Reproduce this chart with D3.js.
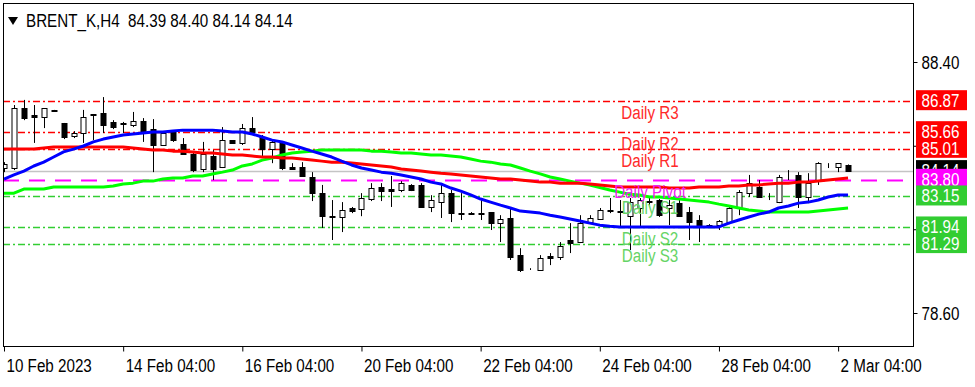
<!DOCTYPE html>
<html>
<head>
<meta charset="utf-8">
<script src="https://cdn.jsdelivr.net/npm/d3@7"></script>
<style>
	html, body { margin: 0; padding: 0; background: #fff; }
	svg { display: block; }
	text { font-family: "Liberation Sans", Arial, sans-serif; }
</style>
</head>
<body>
<div id="chart"></div>
<script>
const symbol = "BRENT_K";
const timeframe = "H4";

// H4 bars, 10 Feb 04:00 .. 2 Mar 08:00
const open = [84.26, 84.26, 86.60, 86.33, 86.25, 86.49, 86.02, 85.51, 85.63, 86.37,
	86.41, 86.06, 86.02, 85.94, 86.10, 85.78, 85.16, 85.67, 85.20, 84.81,
	84.22, 84.73, 84.30, 85.35, 85.24, 85.82, 85.47, 85.00, 85.28, 84.30,
	84.30, 83.91, 83.28, 82.38, 82.35, 82.70, 82.66, 83.05, 83.52, 83.44,
	83.40, 83.60, 83.60, 82.74, 82.93, 83.28, 82.52, 82.52, 82.52, 82.54,
	82.11, 82.31, 80.86, 80.33, 80.28, 80.82, 80.78, 81.45, 81.37, 82.15,
	82.27, 82.64, 82.60, 82.38, 82.70, 82.99, 83.01, 82.70, 82.89, 82.54,
	82.23, 82.03, 82.03, 82.15, 82.74, 83.28, 83.52, 83.13, 82.93, 83.99,
	83.99, 83.13, 83.79, 84.34, 84.30, 84.39];
const high = [84.49, 86.72, 86.92, 86.72, 86.60, 86.53, 86.02, 85.70, 86.53, 86.37,
	87.03, 86.13, 86.06, 86.45, 86.21, 86.17, 85.70, 85.74, 85.43, 84.85,
	85.28, 84.96, 85.86, 85.35, 85.98, 86.25, 85.55, 85.39, 85.31, 84.45,
	84.49, 84.10, 83.60, 83.01, 82.93, 82.74, 83.28, 83.67, 83.67, 83.95,
	83.75, 83.63, 83.67, 83.20, 83.60, 83.40, 83.28, 82.54, 83.01, 82.54,
	82.42, 82.70, 81.13, 80.35, 80.86, 80.94, 81.37, 82.11, 82.42, 82.42,
	82.70, 83.09, 83.01, 83.09, 83.09, 83.09, 83.05, 83.01, 83.01, 82.74,
	82.42, 82.07, 82.23, 82.78, 83.40, 83.99, 83.79, 83.28, 83.99, 84.18,
	84.10, 84.06, 84.49, 84.45, 84.45, 84.40];
const low = [84.10, 84.18, 86.13, 85.24, 85.82, 86.47, 85.39, 85.43, 85.24, 85.35,
	85.63, 85.78, 85.63, 85.86, 85.28, 84.10, 85.12, 85.28, 84.77, 84.10,
	84.10, 83.79, 84.26, 85.20, 85.16, 85.63, 84.69, 84.45, 84.18, 84.22,
	83.91, 82.97, 81.92, 81.45, 81.76, 82.50, 82.38, 82.97, 82.97, 82.74,
	83.32, 83.36, 82.74, 82.54, 82.31, 82.15, 82.23, 82.46, 82.23, 81.84,
	81.37, 80.67, 80.20, 80.28, 80.24, 80.47, 80.67, 80.94, 81.33, 82.11,
	82.23, 82.50, 81.96, 81.06, 81.96, 82.81, 82.35, 82.03, 82.35, 81.45,
	81.37, 81.99, 81.84, 82.07, 82.42, 83.13, 83.13, 83.01, 82.89, 83.79,
	82.70, 82.89, 83.60, 84.26, 84.10, 84.14];
const close = [84.41, 86.60, 86.21, 86.25, 86.60, 86.51, 85.47, 85.63, 86.25, 86.33,
	85.94, 85.86, 85.98, 86.10, 85.71, 85.16, 85.63, 85.35, 84.81, 84.18,
	84.81, 84.22, 85.35, 85.24, 85.82, 85.67, 85.00, 85.28, 84.26, 84.22,
	83.95, 83.28, 82.38, 82.36, 82.62, 82.58, 83.09, 83.48, 83.36, 83.36,
	83.67, 83.40, 82.74, 83.01, 83.28, 82.50, 82.48, 82.48, 82.48, 82.11,
	82.27, 80.78, 80.28, 80.30, 80.74, 80.74, 81.21, 81.33, 82.11, 82.31,
	82.62, 82.60, 82.56, 82.93, 83.01, 82.95, 82.42, 82.81, 82.38, 82.15,
	82.03, 82.01, 82.19, 82.70, 83.32, 83.67, 83.13, 83.11, 83.91, 83.97,
	83.13, 83.67, 84.45, 84.32, 84.45, 84.14];

// moving averages
const maBlue = [83.83, 83.99, 84.14, 84.34, 84.49, 84.69, 84.89, 85.00, 85.12, 85.28,
	85.39, 85.47, 85.55, 85.59, 85.63, 85.67, 85.67, 85.71, 85.74, 85.74,
	85.74, 85.74, 85.71, 85.67, 85.67, 85.59, 85.47, 85.35, 85.28, 85.16,
	85.04, 84.92, 84.81, 84.69, 84.53, 84.38, 84.26, 84.18, 84.10, 84.06,
	83.99, 83.91, 83.83, 83.71, 83.64, 83.48, 83.36, 83.21, 83.05, 82.93,
	82.81, 82.70, 82.58, 82.54, 82.50, 82.42, 82.35, 82.27, 82.19, 82.11,
	82.03, 81.99, 81.96, 81.96, 81.96, 81.96, 81.96, 81.96, 81.96, 81.96,
	81.96, 81.96, 81.96, 82.11, 82.23, 82.35, 82.46, 82.54, 82.70, 82.78,
	82.89, 82.93, 83.01, 83.13, 83.21, 83.21];
const maRed = [85.00, 85.00, 85.00, 85.00, 85.04, 85.08, 85.08, 85.08, 85.08, 85.08,
	85.08, 85.08, 85.08, 85.04, 85.00, 84.96, 84.96, 84.92, 84.92, 84.89,
	84.85, 84.85, 84.81, 84.77, 84.77, 84.73, 84.69, 84.69, 84.65, 84.65,
	84.61, 84.57, 84.53, 84.49, 84.49, 84.46, 84.42, 84.38, 84.34, 84.30,
	84.22, 84.18, 84.14, 84.10, 84.06, 84.03, 83.99, 83.95, 83.91, 83.87,
	83.83, 83.83, 83.79, 83.75, 83.71, 83.71, 83.67, 83.67, 83.67, 83.64,
	83.60, 83.56, 83.52, 83.52, 83.52, 83.52, 83.52, 83.48, 83.48, 83.48,
	83.52, 83.52, 83.52, 83.56, 83.56, 83.60, 83.60, 83.64, 83.67, 83.67,
	83.71, 83.71, 83.75, 83.79, 83.83, 83.87];
const maGreen = [83.28, 83.28, 83.44, 83.44, 83.44, 83.52, 83.52, 83.52, 83.52, 83.52,
	83.52, 83.56, 83.64, 83.67, 83.75, 83.75, 83.83, 83.87, 83.87, 83.95,
	83.95, 84.03, 84.10, 84.18, 84.34, 84.42, 84.57, 84.65, 84.77, 84.85,
	84.89, 84.92, 84.96, 84.96, 84.96, 84.96, 84.96, 84.92, 84.92, 84.89,
	84.85, 84.85, 84.81, 84.77, 84.77, 84.73, 84.69, 84.61, 84.53, 84.49,
	84.42, 84.38, 84.26, 84.14, 84.03, 83.91, 83.83, 83.75, 83.67, 83.60,
	83.50, 83.40, 83.32, 83.24, 83.21, 83.13, 83.13, 83.09, 83.05, 83.01,
	82.97, 82.93, 82.85, 82.78, 82.70, 82.62, 82.58, 82.54, 82.54, 82.54,
	82.54, 82.54, 82.58, 82.62, 82.66, 82.70];

// daily pivot levels
const levelNames = ["Daily R3", "Daily R2", "Daily R1", "Daily Pivot", "Daily S1", "Daily S2", "Daily S3"];
const levelValues = [86.87, 85.66, 85.01, 83.80, 83.15, 81.94, 81.29];

const timeTickBars = [0, 12, 24, 36, 48, 60, 72, 84];
const timeLabels = ["10 Feb 2023", "14 Feb 04:00", "16 Feb 04:00", "20 Feb 04:00",
	"22 Feb 04:00", "24 Feb 04:00", "28 Feb 04:00", "2 Mar 04:00"];
const priceTicks = [88.40, 85.13, 81.87, 78.60];

const width = 975;
const height = 387;
const frame = { left: 3, right: 913, top: 3, bottom: 346 };
const barStep = 9.93;
const fontSize = 19;
const squeeze = "scale(0.8,1)"; // narrow terminal font look

const x = d3.scaleLinear()
	.domain([0, open.length - 1])
	.range([4, 4 + (open.length - 1) * barStep]);
const y = d3.scaleLinear().domain([78.60, 88.40]).range([313, 62]);

function levelColor(i) {
	if (i < 3) return "#ff0000";
	if (i === 3) return "#ff00ff";
	return "#32cd32";
}

const svg = d3.select("#chart").append("svg")
	.attr("width", width)
	.attr("height", height)
	.style("font-family", "'Liberation Sans', Arial, sans-serif");

svg.append("defs").append("clipPath")
	.attr("id", "plot-clip")
	.append("rect")
	.attr("x", frame.left + 0.5)
	.attr("y", frame.top + 0.5)
	.attr("width", frame.right - frame.left - 0.5)
	.attr("height", frame.bottom - frame.top - 0.5);

const plot = svg.append("g").attr("clip-path", "url(#plot-clip)");

// current price line
const last = open.length - 1;
plot.append("line")
	.attr("x1", frame.left).attr("x2", frame.right)
	.attr("y1", Math.round(y(close[last])) + 0.5)
	.attr("y2", Math.round(y(close[last])) + 0.5)
	.attr("stroke", "#c4c4c4")
	.attr("stroke-width", 1.5);

// pivot lines
plot.append("g")
	.selectAll("line")
	.data(levelValues)
	.join("line")
	.attr("x1", frame.left)
	.attr("x2", frame.right)
	.attr("y1", (d) => Math.round(y(d)) + 0.5)
	.attr("y2", (d) => Math.round(y(d)) + 0.5)
	.attr("stroke", (d, i) => levelColor(i))
	.attr("stroke-width", (d, i) => (i === 3 ? 2 : 1.5))
	.attr("stroke-dasharray", (d, i) => (i === 3 ? "16,10" : "7,3,2,3"));

// candles
const bars = d3.range(open.length);
const candle = plot.append("g")
	.selectAll("g")
	.data(bars)
	.join("g")
	.attr("transform", (i) => `translate(${Math.round(x(i)) + 0.5},0)`);

candle.append("line")
	.attr("y1", (i) => y(high[i]))
	.attr("y2", (i) => y(low[i]))
	.attr("stroke", "#000");

candle.append("rect")
	.attr("x", -2.5)
	.attr("width", 5)
	.attr("y", (i) => Math.round(y(Math.max(open[i], close[i]))) + 0.5)
	.attr("height", (i) => Math.max(0, Math.round(y(Math.min(open[i], close[i]))) - Math.round(y(Math.max(open[i], close[i])))))
	.attr("fill", (i) => (close[i] > open[i] ? "#fff" : "#000"))
	.attr("stroke", "#000");

// moving averages
const maLine = d3.line().x((d, i) => x(i)).y((d) => y(d));
[[maGreen, "#00ff00"], [maRed, "#ff0000"], [maBlue, "#0000ff"]].forEach(([series, color]) => {
	plot.append("path")
		.attr("d", maLine(series))
		.attr("fill", "none")
		.attr("stroke", color)
		.attr("stroke-width", 3)
		.attr("stroke-linejoin", "round");
});

// level labels
plot.append("g")
	.selectAll("text")
	.data(levelNames)
	.join("text")
	.attr("transform", (d, i) => `translate(650,${y(levelValues[i]) + 18}) ${squeeze}`)
	.attr("text-anchor", "middle")
	.attr("font-size", fontSize)
	.attr("fill", (d, i) => (i < 3 ? "#ff2a2a" : i === 3 ? "#f020f0" : "#66d466"))
	.text((d) => d);

// frame
svg.append("rect")
	.attr("x", frame.left + 0.5)
	.attr("y", frame.top + 0.5)
	.attr("width", frame.right - frame.left)
	.attr("height", frame.bottom - frame.top)
	.attr("fill", "none")
	.attr("stroke", "#000");

// price axis
const yAxis = svg.append("g")
	.attr("transform", `translate(${frame.right + 0.5},0)`)
	.call(d3.axisRight(y).tickValues(priceTicks).tickSize(4).tickFormat(d3.format(".2f")));
yAxis.select(".domain").remove();
yAxis.selectAll("text")
	.attr("x", null)
	.attr("font-size", fontSize)
	.attr("font-family", "'Liberation Sans', Arial, sans-serif")
	.attr("fill", "#000")
	.attr("transform", `translate(8,0) ${squeeze}`);

// time axis
const xAxis = svg.append("g")
	.attr("transform", `translate(0,${frame.bottom + 0.5})`)
	.call(d3.axisBottom(x).tickValues(timeTickBars).tickSize(5).tickFormat((d, i) => timeLabels[i]));
xAxis.select(".domain").remove();
xAxis.selectAll("text")
	.attr("y", null)
	.attr("dy", null)
	.attr("text-anchor", "start")
	.attr("font-size", fontSize)
	.attr("font-family", "'Liberation Sans', Arial, sans-serif")
	.attr("fill", "#000")
	.attr("transform", `translate(2,25) ${squeeze}`);

// price boxes on the axis
const boxes = [
	{ v: levelValues[0], c: "#ff0000" },
	{ v: levelValues[2], c: "#ff0000" },
	{ v: levelValues[1], c: "#ff0000" },
	{ v: close[last], c: "#000000" },
	{ v: levelValues[3], c: "#ff00ff" },
	{ v: levelValues[4], c: "#32cd32" },
	{ v: levelValues[5], c: "#32cd32" },
	{ v: levelValues[6], c: "#32cd32" },
];
const box = svg.append("g")
	.selectAll("g")
	.data(boxes)
	.join("g")
	.attr("transform", (d) => `translate(916,${y(d.v) - 1})`);
box.append("rect")
	.attr("x", 0)
	.attr("y", -10)
	.attr("width", 51)
	.attr("height", 20)
	.attr("fill", (d) => d.c);
box.append("text")
	.attr("transform", `translate(5.5,6.8) ${squeeze}`)
	.attr("font-size", fontSize)
	.attr("fill", "#fff")
	.text((d) => d.v.toFixed(2));

// title
svg.append("path")
	.attr("d", "M8,17 L18,17 L13,25 Z")
	.attr("fill", "#000");
svg.append("text")
	.attr("transform", `translate(26,27) ${squeeze}`)
	.attr("font-size", fontSize)
	.style("white-space", "pre")
	.attr("fill", "#000")
	.text(`${symbol},${timeframe}  ${[open[last], high[last], low[last], close[last]].map((v) => v.toFixed(2)).join(" ")}`);
</script>
</body>
</html>
